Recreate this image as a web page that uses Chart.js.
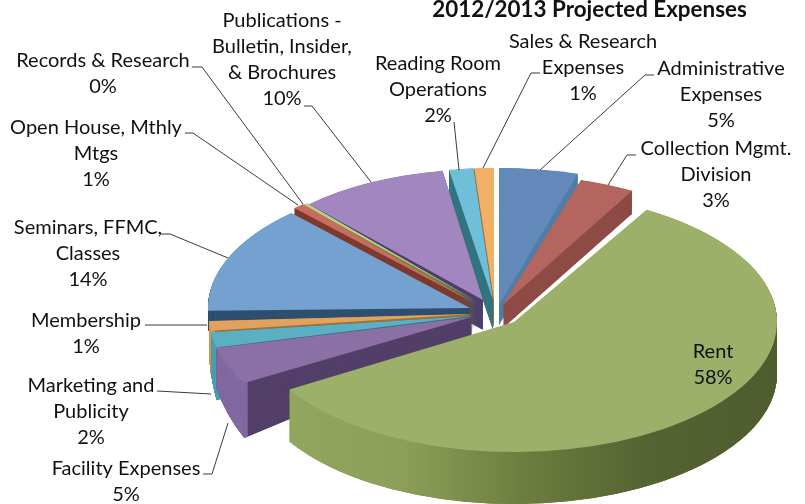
<!DOCTYPE html>
<html><head><meta charset="utf-8">
<style>html,body{margin:0;padding:0;background:#fff}canvas{display:block}</style>
<script src="https://cdn.jsdelivr.net/npm/chart.js@4"></script>
</head><body><canvas id="c" width="805" height="504"></canvas>
<script>
const titleText = "2012/2013 Projected Expenses";
const categories = [
  ["Administrative","Expenses"],["Collection Mgmt.","Division"],["Rent"],["Facility Expenses"],
  ["Marketing and","Publicity"],["Membership"],["Seminars, FFMC,","Classes"],["Open House, Mthly","Mtgs"],
  ["Records & Research"],["Publications -","Bulletin, Insider,","& Brochures"],["Reading Room","Operations"],["Sales & Research","Expenses"]
];
const values = [4.7,3.4,58.4,4.6,1.9,1.2,13.5,0.7,0.3,9.5,1.5,1.2];
const percentLabels = ["5%","3%","58%","5%","2%","1%","14%","1%","0%","10%","2%","1%"];
const topColors = ["#6389BA","#B5655F","#9DB06A","#8A70A4","#5BAFC2","#E0A25E","#74A1D0","#C66D60","#B8D080","#A186BF","#6FBFD8","#F2B066"];
const wallColors = ["#4F7FA8","#8E4B45","#6D7D3E","#54406A","#2F7480","#A87033","#2F5070","#7F3B2E","#6F8A3C","#4F3F70","#337580","#A87033"];
const rimColors = ["#4F7FA8","#8E4B45",null,"#8069A0","#4CA0B2","#D8954F","#2F5070","#7F3B2E","#6F8A3C","#4F3F70","#337580","#A87033"];
// per-slice placement of the disc: centre x, top y, rx, ry, bottom y, bottom ry, tilt (deg)
const poses = [
  [499,305,273,137,325,137,0],[503,305,263,131,328,131,0.5],[514,322,263,130,374,130,1.4],
  [472,317,263,132,343,190,2.7],[472,316,263,132,345,230,2.5],[472,314,263,132,345,240,2.2],
  [470,308,262,130,328,130,4.1],[474,303,263,130,332,130,4.0],[478,302,263,130,330,130,3.0],
  [483,300,255,131,330,131,0.5],[493,300,263,132,330,132,0],[494,300,263,132,328,132,0]
];
const drawOrder = [11,10,9,8,7,6,5,4,3,0,1,2];
const labelX = [721,716,713,126,91,86,88,96,103,282,438,583];
const labelY = [69,149,352,469,386,321,228,128,61,21,64,42];
const leaders = [
  [[654,75],[645,75],[540,170]],[[636,155],[627,155],[608,185]],null,[[203,474],[212,474],[228,423]],
  [[157,391],[211,394]],[[145,325],[207,325]],[[161,234],[170,234],[228,258]],[[185,133],[193,133],[298,205]],
  [[192,67],[202,67],[303,204]],[[304,106],[312,106],[371,182]],[[454,122],[459,170]],[[540,73],[531,73],[483,168]]
];
const rentRimStops = [[0,"#93A65E"],[0.25,"#8C9E58"],[0.5,"#6D7D3E"],[0.75,"#556332"],[1,"#4F5C2E"]];
const R = 100;

function setPose(ctx, arc, cx, cy, rx, ry, tilt){
  const a = rx/R, d = ry/R;
  ctx.setTransform(a,0,0,d,cx,cy);
  ctx.rotate(tilt*Math.PI/180);
  ctx.translate(-arc.x,-arc.y);
}
function paint(ctx, arc, color, inner){
  const o = arc.options, ir = arc.innerRadius;
  arc.options = Object.assign({}, o, {backgroundColor: color, borderWidth: 0});
  arc.innerRadius = inner || 0;
  arc.draw(ctx);
  arc.options = o; arc.innerRadius = ir;
}
const pie3d = {
  id:"pie3d",
  beforeDatasetsDraw(chart){
    const ctx = chart.ctx, arcs = chart.getDatasetMeta(0).data;
    ctx.save();
    drawOrder.forEach(i=>{
      const arc = arcs[i], [cx,cy,rx,ry,cyB,ryB,tilt] = poses[i];
      const a = rx/R;
      let rim = rimColors[i];
      if(!rim){
        const g = ctx.createLinearGradient(arc.x+(288-cx)/a,0,arc.x+(776-cx)/a,0);
        rentRimStops.forEach(s=>g.addColorStop(s[0],s[1]));
        rim = g;
      }
      const n = Math.max(2,Math.ceil(Math.max(cyB-cy+ (ryB-ry),1)*2));
      for(let k=n;k>=1;k--){
        const t=k/n;
        setPose(ctx,arc,cx,cy+(cyB-cy)*t,rx,ry+(ryB-ry)*t,tilt);
        paint(ctx,arc,wallColors[i],0);
      }
      for(let k=n;k>=1;k--){
        const t=k/n;
        setPose(ctx,arc,cx,cy+(cyB-cy)*t,rx,ry+(ryB-ry)*t,tilt);
        paint(ctx,arc,rim,R*0.985);
      }
      setPose(ctx,arc,cx,cy,rx,ry,tilt);
      paint(ctx,arc,topColors[i],0);
    });
    ctx.restore();
    return false;
  },
  afterDraw(chart){
    const ctx = chart.ctx;
    ctx.save();
    ctx.strokeStyle="#3a3a3a"; ctx.lineWidth=1;
    leaders.forEach(p=>{
      if(!p) return;
      ctx.beginPath();
      p.forEach((q,j)=> j?ctx.lineTo(q[0],q[1]):ctx.moveTo(q[0],q[1]));
      ctx.stroke();
    });
    ctx.fillStyle="#111"; ctx.textAlign="center"; ctx.textBaseline="middle";
    ctx.font='20px Lato';
    categories.forEach((c,i)=>{
      const lines=c.concat([percentLabels[i]]);
      lines.forEach((s,j)=>ctx.fillText(s,labelX[i],labelY[i]+j*26));
    });
    ctx.font='bold 22.4px Lato';
    ctx.fillText(titleText,589.5,10);
    ctx.restore();
  }
};
new Chart(document.getElementById("c"),{
  type:"pie",
  data:{labels:categories,datasets:[{data:values,backgroundColor:topColors,borderWidth:0}]},
  options:{responsive:false,animation:false,radius:R,
    layout:{padding:0},
    plugins:{legend:{display:false},tooltip:{enabled:false},title:{display:false}}},
  plugins:[pie3d]
});
</script></body></html>
